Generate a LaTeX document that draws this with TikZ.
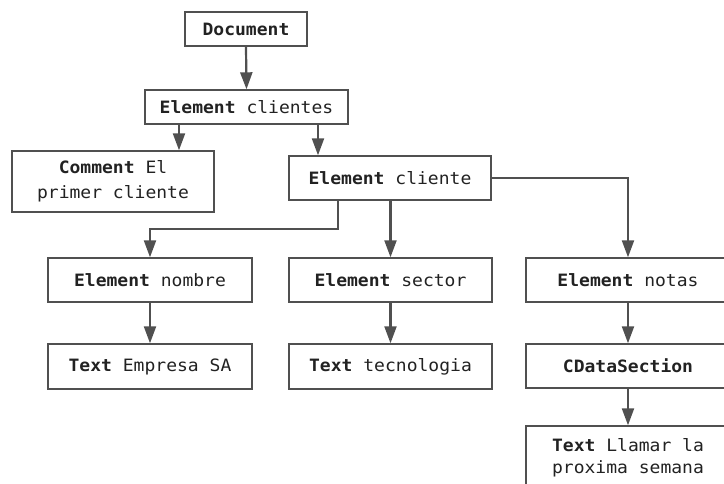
\documentclass[tikz,border=0pt]{standalone}
\usepackage{fontspec}
\setmonofont[FakeStretch=1.06]{DejaVu Sans Mono}
\usetikzlibrary{arrows.meta,calc}
\definecolor{linegray}{HTML}{505050}
\definecolor{inkgray}{HTML}{222222}
\tikzset{
  box/.style={draw=linegray, line width=1.4pt, fill=white, inner sep=0pt,
    text=inkgray, align=center,
    font=\ttfamily\fontsize{17}{25}\selectfont},
  arr/.style={draw=linegray, line width=2.2pt,
    -{Triangle[width=12pt,length=17pt]}},
}
\newcommand{\kw}[1]{\textbf{#1}}
\begin{document}
\begin{tikzpicture}[x=1pt,y=-1pt]
  \clip (0,0) rectangle (724,484);
  \fill[white] (0,0) rectangle (724,484);

  % DOM tree nodes
  \node[box, minimum width=122pt, minimum height=34pt] (doc) at (246,29) {\kw{Document}};
  \node[box, minimum width=203pt, minimum height=34pt] (clientes) at (246.5,107) {\kw{Element} clientes};
  \node[box, minimum width=202pt, minimum height=61pt] (comment) at (113,181.5) {\kw{Comment} El\\primer cliente};
  \node[box, minimum width=202pt, minimum height=44pt] (cliente) at (390,178) {\kw{Element} cliente};

  \node[box, minimum width=204pt, minimum height=44pt] (nombre) at (150,280) {\kw{Element} nombre};
  \node[box, minimum width=203pt, minimum height=44pt] (sector) at (390.5,280) {\kw{Element} sector};
  \node[box, minimum width=204pt, minimum height=44pt] (notas) at (628,280) {\kw{Element} notas};

  \node[box, minimum width=204pt, minimum height=45pt] (empresa) at (150,366.5) {\kw{Text} Empresa SA};
  \node[box, minimum width=203pt, minimum height=45pt] (tecno) at (390.5,366.5) {\kw{Text} tecnologia};
  \node[box, minimum width=204pt, minimum height=44pt] (cdata) at (628,366) {\kw{CDataSection}};
  \node[box, minimum width=204pt, minimum height=64pt,
        font=\ttfamily\fontsize{17}{22}\selectfont] (llamar) at (628,458) {\kw{Text} Llamar la\\proxima semana};

  % connectors
  \draw[arr] (doc.south) -- (clientes.north);
  \draw[arr] ([xshift=-67.5pt]clientes.south) -- ([xshift=-67.5pt]clientes.south |- comment.north);
  \draw[arr] ([xshift=71.5pt]clientes.south) -- ([xshift=71.5pt]clientes.south |- cliente.north);

  \coordinate (elbow) at (338,229);
  \draw[arr] (cliente.south -| elbow) -- (elbow) -| (nombre.north);
  \draw[arr] (cliente.south -| sector.north) -- (sector.north);
  \draw[arr] (cliente.east) -| (notas.north);

  \draw[arr] (nombre.south) -- (empresa.north);
  \draw[arr] (sector.south) -- (tecno.north);
  \draw[arr] (notas.south) -- (cdata.north);
  \draw[arr] (cdata.south) -- (llamar.north);
\end{tikzpicture}
\end{document}
